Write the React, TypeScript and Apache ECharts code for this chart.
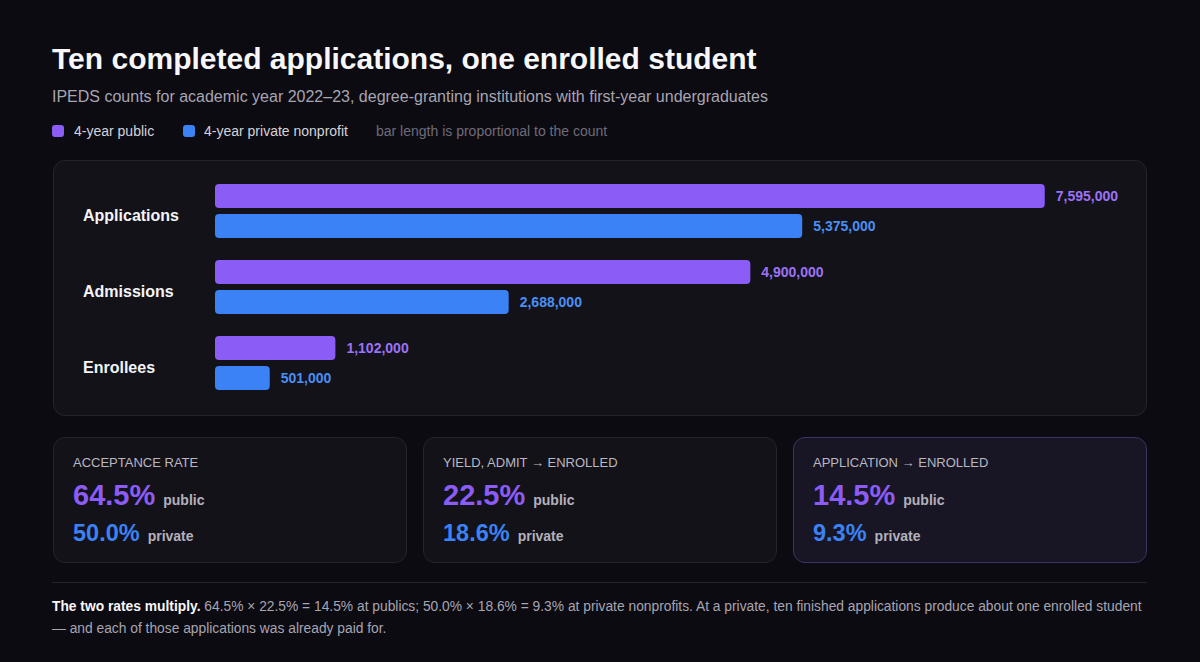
import { useEffect, useRef } from "react";
import * as echarts from "echarts";

const categories = ["Applications", "Admissions", "Enrollees"];
const seriesNames = ["4-year public", "4-year private nonprofit"];
const publicCounts = [7595000, 4900000, 1102000];
const privateCounts = [5375000, 2688000, 501000];

const statTitles = ["ACCEPTANCE RATE", "YIELD, ADMIT → ENROLLED", "APPLICATION → ENROLLED"];
const publicRates = ["64.5%", "22.5%", "14.5%"];
const privateRates = ["50.0%", "18.6%", "9.3%"];

const PURPLE = "#8b5cf6";
const BLUE = "#3b82f6";
const PURPLE_TEXT = "#9c72f7";
const BLUE_TEXT = "#4a8ff5";
const FONT = '"Liberation Sans", Arial, Helvetica, sans-serif';

const fmt = (v: number) => v.toLocaleString("en-US");

const BarChart = () => {
  const ref = useRef<HTMLDivElement>(null);

  useEffect(() => {
    if (!ref.current) return;
    const chart = echarts.init(ref.current, null, { renderer: "svg" });
    const label = (color: string) => ({
      show: true,
      position: "right" as const,
      distance: 11,
      color,
      fontSize: 14,
      fontWeight: "bold" as const,
      fontFamily: FONT,
      formatter: (p: any) => fmt(p.value),
    });
    chart.setOption({
      animation: false,
      grid: { left: 162, top: 13, width: 874, height: 228 },
      xAxis: {
        type: "value",
        min: 0,
        max: 8000000,
        show: false,
      },
      yAxis: {
        type: "category",
        inverse: true,
        data: categories,
        axisLine: { show: false },
        axisTick: { show: false },
        axisLabel: {
          align: "left",
          margin: 132,
          formatter: (v: string) => `{c|${v}}`,
          rich: {
            c: {
              color: "#f4f4f7",
              fontSize: 16,
              fontWeight: "bold",
              fontFamily: FONT,
              padding: [8, 0, 0, 0],
            },
          },
        },
      },
      series: [
        {
          name: seriesNames[0],
          type: "bar",
          data: publicCounts,
          barWidth: 24,
          barGap: "25%",
          itemStyle: { color: PURPLE, borderRadius: 4 },
          label: label(PURPLE_TEXT),
        },
        {
          name: seriesNames[1],
          type: "bar",
          data: privateCounts,
          barWidth: 24,
          barGap: "25%",
          itemStyle: { color: BLUE, borderRadius: 4 },
          label: label(BLUE_TEXT),
        },
      ],
    });
    return () => chart.dispose();
  }, []);

  return (
    <div
      ref={ref}
      style={{ position: "absolute", left: 53, top: 160, width: 1094, height: 256 }}
    />
  );
};

const StatCard = ({ i }: { i: number }) => {
  const highlight = i === 2;
  return (
    <div
      style={{
        position: "absolute",
        left: 53 + i * 370,
        top: 437,
        width: 354,
        height: 126,
        boxSizing: "border-box",
        borderRadius: 12,
        border: `1px solid ${highlight ? "#3c3563" : "#25242d"}`,
        background: highlight ? "#181624" : "#131219",
      }}
    >
      <div
        style={{
          position: "absolute",
          left: 19,
          top: 17,
          fontSize: 13,
          lineHeight: "16px",
          color: "#b9b7c2",
          whiteSpace: "nowrap",
        }}
      >
        {statTitles[i]}
      </div>
      <div
        style={{
          position: "absolute",
          left: 19,
          top: 41,
          fontSize: 29,
          lineHeight: "32px",
          whiteSpace: "nowrap",
        }}
      >
        <span style={{ color: PURPLE, fontWeight: "bold" }}>{publicRates[i]}</span>
        <span style={{ color: "#b3b1bc", fontWeight: "bold", fontSize: 14, marginLeft: 8 }}>
          public
        </span>
      </div>
      <div
        style={{
          position: "absolute",
          left: 19,
          top: 82,
          fontSize: 23.5,
          lineHeight: "26px",
          whiteSpace: "nowrap",
        }}
      >
        <span style={{ color: BLUE, fontWeight: "bold" }}>{privateRates[i]}</span>
        <span style={{ color: "#b3b1bc", fontWeight: "bold", fontSize: 14, marginLeft: 8 }}>
          private
        </span>
      </div>
    </div>
  );
};

export default function App() {
  return (
    <div
      style={{
        position: "fixed",
        left: 0,
        top: 0,
        width: 1200,
        height: 662,
        background: "#0c0b11",
        fontFamily: FONT,
        overflow: "hidden",
      }}
    >
      <div
        style={{
          position: "absolute",
          left: 52,
          top: 41,
          fontSize: 30,
          lineHeight: "36px",
          fontWeight: "bold",
          color: "#f7f7fa",
          whiteSpace: "nowrap",
        }}
      >
        Ten completed applications, one enrolled student
      </div>
      <div
        style={{
          position: "absolute",
          left: 52,
          top: 87,
          fontSize: 16,
          lineHeight: "20px",
          color: "#a7a5b1",
          whiteSpace: "nowrap",
        }}
      >
        IPEDS counts for academic year 2022–23, degree-granting institutions with first-year
        undergraduates
      </div>

      {/* legend */}
      <div style={{ position: "absolute", left: 52, top: 125, width: 12, height: 12, borderRadius: 3, background: PURPLE }} />
      <div style={{ position: "absolute", left: 74, top: 122, fontSize: 14, lineHeight: "18px", color: "#d4d3da", whiteSpace: "nowrap" }}>
        {seriesNames[0]}
      </div>
      <div style={{ position: "absolute", left: 183, top: 125, width: 12, height: 12, borderRadius: 3, background: BLUE }} />
      <div style={{ position: "absolute", left: 204, top: 122, fontSize: 14, lineHeight: "18px", color: "#d4d3da", whiteSpace: "nowrap" }}>
        {seriesNames[1]}
      </div>
      <div style={{ position: "absolute", left: 376, top: 122, fontSize: 14, lineHeight: "18px", color: "#6e6c79", whiteSpace: "nowrap" }}>
        bar length is proportional to the count
      </div>

      {/* chart card */}
      <div
        style={{
          position: "absolute",
          left: 53,
          top: 160,
          width: 1094,
          height: 256,
          boxSizing: "border-box",
          borderRadius: 12,
          border: "1px solid #25242d",
          background: "#131219",
        }}
      />
      <BarChart />

      {[0, 1, 2].map((i) => (
        <StatCard key={i} i={i} />
      ))}

      <div style={{ position: "absolute", left: 52, top: 582, width: 1095, height: 1, background: "#25242d" }} />
      <div
        style={{
          position: "absolute",
          left: 52,
          top: 596,
          fontSize: 13.8,
          lineHeight: "22px",
          color: "#a7a5b1",
          whiteSpace: "nowrap",
        }}
      >
        <span style={{ color: "#f7f7fa", fontWeight: "bold" }}>The two rates multiply.</span>{" "}
        64.5% × 22.5% = 14.5% at publics; 50.0% × 18.6% = 9.3% at private nonprofits. At a private,
        ten finished applications produce about one enrolled student
        <br />— and each of those applications was already paid for.
      </div>
    </div>
  );
}
